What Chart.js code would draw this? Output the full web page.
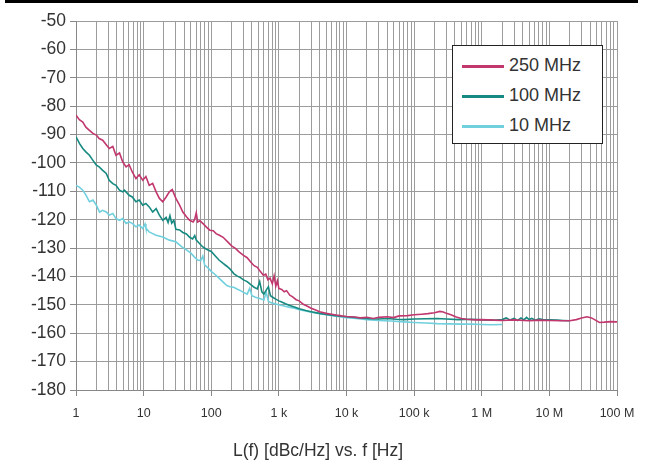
<!DOCTYPE html>
<html>
<head>
<meta charset="utf-8">
<script src="https://cdn.jsdelivr.net/npm/chart.js@4"></script>
<style>
  body { margin: 0; background: #fff; }
  #wrap { position: relative; width: 648px; height: 466px; }
  #topbar { position: absolute; left: 5px; top: 0; width: 633px; height: 3px; background: #000; }
  #legend {
    position: absolute; left: 452px; top: 45px; width: 149px; height: 97px;
    border: 1px solid #222; background: #fff; font-family: "Liberation Sans", Arial, sans-serif;
  }
  .row { position: absolute; left: 0; height: 20px; }
  .swatch { position: absolute; left: 9px; top: 10px; width: 42px; height: 3px; }
  .lbl { position: absolute; left: 56px; top: 0; font-size: 18px; line-height: 20px; color: #333; white-space: nowrap; }
</style>
</head>
<body>
<div id="wrap">
  <canvas id="chart" width="648" height="466"></canvas>
  <div id="topbar"></div>
  <div id="legend"></div>
</div>
<script>
const seriesNames = ['250 MHz', '100 MHz', '10 MHz'];
const seriesColors = ['#c1376e', '#168a80', '#70d0de'];

const xTickLabels = ['1', '10', '100', '1 k', '10 k', '100 k', '1 M', '10 M', '100 M'];
const xTitle = 'L(f) [dBc/Hz] vs. f [Hz]';

// 250 MHz
const freq250 = [1, 1.12, 1.26, 1.4, 1.58, 1.78, 2, 2.2, 2.48, 2.8, 3.1, 3.5, 3.9, 4.4, 4.9, 5.5, 6.1, 6.8, 7.7, 8.6, 9.7,
  10.8, 12.1, 13.6, 15.3, 17.1, 19.2, 21.5, 24, 26.5, 30, 34, 38, 43, 48, 54, 57, 60, 63, 68, 75, 85, 95,
  107, 118, 130, 150, 175, 200, 230, 260, 300, 340, 380, 430, 480, 530, 590, 640, 690, 740, 800, 850, 900, 950,
  1000, 1100, 1200, 1300, 1450, 1600, 1800, 2000, 2300, 2600, 3000, 3500, 4000, 5000, 6000, 7000, 8500,
  10000, 13000, 16000, 20000, 25000, 30000, 40000, 50000, 60000, 80000,
  100000, 130000, 160000, 200000, 240000, 270000, 300000, 350000, 420000, 500000, 600000, 800000,
  1e6, 1.5e6, 2e6, 3e6, 5e6, 7e6, 1e7, 1.5e7, 2e7, 2.5e7, 3e7, 3.6e7, 4.2e7, 4.8e7, 5.5e7, 6.5e7, 8e7, 1e8];
const noise250 = [-83.2, -84.8, -85.6, -87.4, -88.5, -89.6, -90.2, -91.4, -92, -93.6, -94.9, -94.2, -97.3, -96.5, -99.6, -101.4, -100.6, -103.2, -105.5, -104.2, -106.1,
  -104.8, -107.9, -107.2, -110.2, -112.5, -113.7, -112, -110.2, -109.4, -112.5, -114.9, -117.3, -119, -120.2, -120.8, -119.8, -117.6, -120.8, -120.4, -121.3, -122.6, -123.7,
  -123.9, -124.9, -125.4, -126.2, -127.8, -129.2, -130.2, -131.4, -132.6, -133.4, -134.8, -136.2, -136.8, -138.2, -139.6, -139.2, -141.2, -140.6, -142.6, -139.8, -143.4, -141.5,
  -144.2, -144.6, -145.4, -145, -146.6, -147.2, -148.2, -148.6, -149.8, -150.4, -151.2, -151.8, -152.4, -153, -153.3, -153.6, -153.9,
  -154.1, -154.3, -154.6, -154.4, -154.8, -154.4, -154.2, -154.5, -153.9, -153.8,
  -153.5, -153.3, -153.1, -152.8, -152.3, -152.5, -153, -153.5, -154.3, -154.8, -155.1, -155.3,
  -155.2, -155.4, -155.5, -155.3, -155.6, -155.4, -155.5, -155.6, -155.6, -155.2, -154.6, -154.2, -154.6, -155.4, -156.2, -156.1, -155.9, -156];

// 100 MHz
const freq100 = [1, 1.13, 1.26, 1.41, 1.58, 1.78, 2, 2.2, 2.48, 2.8, 3.1, 3.5, 3.9, 4.4, 4.9, 5.2, 6.1, 6.8, 7.7, 8.6, 9.7,
  10.8, 12.1, 13.6, 15.3, 17.1, 19.2, 21.5, 23, 24.5, 26, 28, 30, 34, 38, 43, 48, 53, 57, 60, 66, 75, 85,
  100, 115, 130, 150, 170, 190, 215, 240, 270, 300, 340, 380, 430, 480, 520, 560, 600, 650, 700, 750, 820, 900,
  1000, 1100, 1250, 1450, 1700, 2000, 2500, 3000, 4000, 5000, 6500, 8000,
  10000, 13000, 17000, 22000, 30000, 40000, 55000, 70000,
  100000, 150000, 220000, 300000, 450000, 700000,
  1e6, 1.5e6, 2e6, 2.3e6, 2.6e6, 3e6, 3.4e6, 3.8e6, 4.2e6, 4.6e6, 5e6, 5.5e6, 6.2e6, 7e6, 8e6, 1e7, 1.3e7, 1.6e7, 2e7];
const noise100 = [-90.8, -93.2, -94.9, -96.2, -97.3, -99.1, -100.8, -101.4, -102.6, -103.7, -106.1, -107.3, -107.9, -109.6, -110.2, -109.6, -111.4, -112, -113.7, -113.1, -114.9,
  -114.3, -115.5, -117.3, -116.1, -118.4, -120.2, -119.2, -121, -118.6, -121.2, -120.2, -123.4, -123.6, -124.5, -125, -126.2, -126.8, -125.6, -127.2, -128.2, -129.6, -130.4,
  -131.2, -132.8, -134.2, -135.4, -136.4, -137.4, -139, -139.8, -140.4, -141.2, -141.8, -142.8, -143.8, -144.4, -141.8, -145.4, -146.2, -144.8, -143.6, -146.8, -147.4, -148,
  -148.6, -149, -149.6, -150.2, -150.8, -151.4, -152, -152.4, -153, -153.4, -153.7, -154,
  -154.2, -154.4, -154.7, -154.9, -155, -154.8, -155.1, -155.2,
  -155, -154.9, -154.8, -155, -155.2, -155.1,
  -155.3, -155.4, -155.2, -154.6, -155.3, -154.8, -155.5, -154.6, -155.3, -154.4, -155.2, -154.8, -155.4, -154.9, -155.2, -155.3, -155.4, -155.5, -155.6];

// 10 MHz
const freq10 = [1, 1.12, 1.26, 1.41, 1.58, 1.78, 2, 2.23, 2.48, 2.8, 3.1, 3.5, 3.9, 4.4, 4.9, 5.5, 6.1, 6.8, 7.7, 8.6, 9.7,
  10.5, 10.8, 12.1, 13.6, 15.3, 19.2, 24, 30, 36, 43.5, 50, 56, 63, 70, 75, 80, 88,
  100, 115, 130, 150, 170, 190, 215, 240, 270, 300, 340, 370, 400, 450, 520, 600, 650, 700, 800, 900,
  1000, 1200, 1400, 1700, 2000, 2500, 3000, 4000, 5000, 6500, 8000,
  10000, 14000, 20000, 30000, 45000, 70000,
  100000, 150000, 220000, 330000, 500000, 700000, 1e6, 1.4e6, 2e6];
const noise10 = [-107.9, -108.5, -109.6, -111.4, -113.7, -113.1, -114.9, -117.3, -116.7, -117.3, -118.4, -117.8, -119.6, -120.2, -119.6, -121.3, -120.8, -121.3, -122.5, -121.9, -123.1,
  -121.5, -122.9, -124.3, -124.9, -125.5, -126.1, -127.2, -127.8, -129.4, -130.7, -131.8, -133.1, -134.2, -134.4, -132.8, -136, -136.8,
  -138.2, -139.4, -140.6, -142, -143.2, -143.6, -143.8, -144.4, -145, -145.6, -146.2, -144.2, -146.8, -147.3, -147.8, -148.3, -145.6, -148.8, -149.4, -149.7,
  -150, -150.4, -150.8, -151.2, -151.7, -152.2, -152.6, -153.1, -153.5, -153.9, -154.2,
  -154.5, -154.8, -155.2, -155.5, -155.7, -156,
  -156.2, -156.4, -156.6, -156.7, -156.8, -156.8, -156.9, -157, -156.9];

const seriesFreqs = [freq250, freq100, freq10];
const seriesNoise = [noise250, noise100, noise10];

const fontFamily = '"Liberation Sans", Arial, sans-serif';

function isDecade(v) {
    const e = Math.log10(v);
    return Math.abs(e - Math.round(e)) < 1e-9;
}

const xTitlePlugin = {
    id: 'xTitle',
    afterDraw(chart) {
        const ctx = chart.ctx;
        const area = chart.chartArea;
        ctx.save();
        ctx.font = '17.5px ' + fontFamily;
        ctx.fillStyle = '#333';
        ctx.textAlign = 'center';
        ctx.textBaseline = 'middle';
        ctx.fillText(xTitle, area.left + 242, area.bottom + 61);
        ctx.restore();
    }
};

const chart = new Chart(document.getElementById('chart').getContext('2d'), {
    type: 'line',
    data: {
        datasets: seriesNames.map((name, i) => ({
            label: name,
            data: seriesFreqs[i].map((f, j) => ({ x: f, y: seriesNoise[i][j] })),
            borderColor: seriesColors[i],
            borderWidth: 1.6,
            pointRadius: 0,
            tension: 0,
            fill: false,
        })),
    },
    options: {
        responsive: false,
        animation: false,
        layout: { padding: { top: 21, right: 31, bottom: 0, left: 0 } },
        plugins: { legend: { display: false }, tooltip: { enabled: false } },
        scales: {
            x: {
                type: 'logarithmic',
                min: 1,
                max: 1e8,
                afterBuildTicks: (scale) => {
                    const ticks = [];
                    for (let e = 0; e <= 8; e++) {
                        for (let m = 1; m <= 9; m++) {
                            const v = m * Math.pow(10, e);
                            if (v <= 1e8) ticks.push({ value: v, major: m === 1 });
                        }
                    }
                    scale.ticks = ticks;
                },
                afterFit: (scale) => { scale.height = 76; },
                grid: {
                    color: '#9c9c9c',
                    lineWidth: 1,
                    tickLength: 6,
                    tickColor: (ctx) => (ctx.tick && isDecade(ctx.tick.value) ? '#888' : 'rgba(0,0,0,0)'),
                },
                border: { color: '#888', width: 1 },
                ticks: {
                    autoSkip: false,
                    maxRotation: 0,
                    padding: 10,
                    color: '#333',
                    font: { family: fontFamily, size: 12.5 },
                    callback: (value) => (isDecade(value) ? xTickLabels[Math.round(Math.log10(value))] : ''),
                },
            },
            y: {
                min: -180,
                max: -50,
                afterFit: (scale) => { scale.width = 76; },
                grid: { color: '#9c9c9c', lineWidth: 1, tickLength: 6, tickColor: '#888' },
                border: { color: '#888', width: 1 },
                ticks: {
                    stepSize: 10,
                    padding: 4,
                    color: '#333',
                    font: { family: fontFamily, size: 17.5 },
                },
            },
        },
    },
    plugins: [xTitlePlugin],
});

// legend box from the datasets
const legendBox = document.getElementById('legend');
chart.data.datasets.forEach((ds, i) => {
    const row = document.createElement('div');
    row.className = 'row';
    row.style.top = (9 + i * 30) + 'px';
    const sw = document.createElement('div');
    sw.className = 'swatch';
    sw.style.background = ds.borderColor;
    const lbl = document.createElement('div');
    lbl.className = 'lbl';
    lbl.textContent = ds.label;
    row.appendChild(sw);
    row.appendChild(lbl);
    legendBox.appendChild(row);
});
</script>
</body>
</html>
